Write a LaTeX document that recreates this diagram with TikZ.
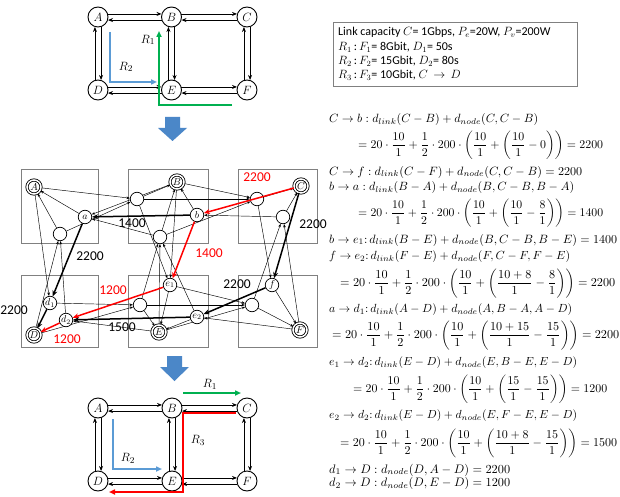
\documentclass[tikz,border=0pt]{standalone}
\usepackage[no-math]{fontspec}
\newfontfamily\calib{Carlito}
\usepackage{amsmath}
\usepackage{graphicx}
\usetikzlibrary{arrows.meta}
\definecolor{rgreen}{RGB}{0,176,80}
\definecolor{rblue}{RGB}{91,155,213}
\definecolor{bigblue}{RGB}{75,135,200}
\definecolor{boxgray}{RGB}{128,128,128}
\newcommand{\eql}[2]{\resizebox{#1pt}{!}{$\displaystyle #2$}}
\pgfdeclarelayer{bg}
\pgfsetlayers{bg,main}
\begin{document}
\begin{tikzpicture}[x=1pt,y=-1pt,
  pn/.style={circle, draw, line width=0.9pt, minimum size=20pt, inner sep=0pt, fill=white, font=\fontsize{13}{13}\selectfont},
  lk/.style={-{Stealth[length=5pt,width=4pt]}, line width=0.8pt},
  route/.style={line width=1.6pt, -{Triangle[length=6pt,width=5pt]}},
  vn/.style={circle, draw, line width=0.7pt, minimum size=13.5pt, inner sep=0pt, fill=white, font=\fontsize{10}{10}\selectfont},
  ph/.style={circle, draw, double, double distance=1.5pt, line width=0.8pt, minimum size=14pt, inner sep=0pt, fill=white, font=\fontsize{10}{10}\selectfont},
  th/.style={-{Stealth[length=3.5pt,width=2.6pt]}, line width=0.45pt},
  bk/.style={-{Stealth[length=6pt,width=5pt]}, line width=1.5pt},
  rd/.style={bk, draw=red},
  vbox/.style={draw=boxgray, line width=0.8pt},
  num/.style={font=\calib\fontsize{13.5}{13.5}\selectfont, inner sep=0pt},
  rnum/.style={num, text=red},
  blk/.style={fill=bigblue, draw=none},
  info/.style={font=\calib\fontsize{12}{12}\selectfont, anchor=west, inner sep=0pt},
  eqn/.style={anchor=west, inner sep=0pt}
]
\useasboundingbox (0,0) rectangle (620,497);
\begin{pgfonlayer}{bg}
\fill[white] (0,0) rectangle (620,497);
\end{pgfonlayer}

% ---------------- top graph ----------------
\foreach \n/\x/\y in {A/98/17, B/171.5/17, C/247/17, D/98/90, E/171.5/90, F/247/90}
  \node[pn] (t\n) at (\x,\y) {$\n$};
\foreach \p/\q in {A/B, B/C, D/E, E/F} {
  \draw[lk] (t\p.17) -- (t\q.163);
  \draw[lk] (t\q.197) -- (t\p.343);
}
\foreach \p/\q in {A/D, B/E, C/F} {
  \draw[lk] (t\q.107) -- (t\p.253);
  \draw[lk] (t\p.287) -- (t\q.73);
}
\draw[route, draw=rgreen] (232,105) -- (159,105) -- (159,31);
\node[font=\fontsize{13}{13}\selectfont] (tR1) at (148,40) {$R_1$};
\draw[route, draw=rblue] (110,32) -- (110,82) -- (157,82);
\node[font=\fontsize{13}{13}\selectfont] (tR2) at (126,67) {$R_2$};

% info box
\node[draw=boxgray, line width=0.8pt, minimum width=244pt, minimum height=64pt, anchor=north west, inner sep=0pt] (infobox) at (333,22) {};
\node[info] (i1) at (338,32.5) {Link capacity $C$= 1Gbps, $P_e$=20W, $P_v$=200W};
\node[info] (i2) at (338,47) {$R_1$\,:\,$F_1$= 8Gbit, $D_1$= 50s};
\node[info] (i3) at (338,61) {$R_2$\,:\,$F_2$= 15Gbit, $D_2$= 80s};
\node[info] (i4) at (338,75.5) {$R_3$\,:\,$F_3$= 10Gbit, $C\,\rightarrow\,D$};

% big blue arrows
\fill[blk] (165,117) -- (180,117) -- (180,128) -- (187,128) -- (172.5,141) -- (158,128) -- (165,128) -- cycle;
\fill[blk] (167,356) -- (182,356) -- (182,367) -- (189,367) -- (174.5,381) -- (160,367) -- (167,367) -- cycle;

% ---------------- middle graph ----------------
\begin{pgfonlayer}{bg}
\draw[vbox] (21,169) rectangle (98,243);
\draw[vbox] (128,169) rectangle (208,243);
\draw[vbox] (238,169) rectangle (317,243);
\draw[vbox] (21,275) rectangle (98,347);
\draw[vbox] (128,275) rectangle (208,347);
\draw[vbox] (238,275) rectangle (317,347);
\end{pgfonlayer}

\node[ph] (mA) at (34,187) {$A$};
\node[ph] (mB) at (177,182) {$B$};
\node[ph] (mC) at (301,186) {$C$};
\node[ph] (mD) at (34,335) {$D$};
\node[ph] (mE) at (159,332) {$E$};
\node[ph] (mF) at (300,330) {$F$};

\node[vn] (va)  at (85,217)  {$a$};
\node[vn] (vaD) at (60,234)  {};
\node[vn] (vbA) at (137,199) {};
\node[vn] (vb)  at (197,215) {$b$};
\node[vn] (vbE) at (160,237) {};
\node[vn] (vcB) at (257,199) {};
\node[vn] (vcF) at (283,217) {};
\node[vn] (vd1) at (50,303)  {$d_1$};
\node[vn] (vd2) at (66,320)  {$d_2$};
\node[vn] (ve1) at (170,285) {$e_1$};
\node[vn] (veD) at (140,305) {};
\node[vn] (ve2) at (197,317) {$e_2$};
\node[vn] (vf)  at (272,285) {$f$};
\node[vn] (vfE) at (252,305) {};

\begin{pgfonlayer}{bg}
\foreach \s/\t in {mA/vbA, mA/vd1, mB/va, mB/vcB, mB/ve1, mD/vaD, mD/veD, mE/vbE, mE/vd2, mE/vfE, mF/vcF, mF/ve2,
  vaD/vbA, vbA/vcB, vbA/ve1, vbE/va, vbE/vcB, vcB/vf, vcF/vb, vd1/veD, vd2/vaD, ve1/vfE, veD/vbE, veD/vfE, ve2/vbE, vfE/vcF,
  va/mA, vaD/mA, vbA/mB, vb/mB, vbE/mB, vcB/mC, vcF/mC, ve1/mE, veD/mE, ve2/mE, vf/mF, vfE/mF}
  \draw[th] (\s) -- (\t);
\end{pgfonlayer}

\draw[rd] (mC) -- (vb);
\draw[bk] (mC) -- (vf);
\draw[bk] (vb) -- (va);
\draw[rd] (vb) -- (ve1);
\draw[bk] (vf) -- (ve2);
\draw[bk] (va) -- (vd1);
\draw[rd] (ve1) -- (vd2);
\draw[bk] (ve2) -- (vd2);
\draw[bk] (vd1) -- (mD);
\draw[rd] (vd2) -- (mD);

\node[rnum] (l1) at (257,177) {2200};
\node[num]  (l2) at (132,223) {1400};
\node[rnum] (l3) at (209,253) {1400};
\node[num]  (l4) at (90,256)  {2200};
\node[num]  (l5) at (313,224) {2200};
\node[rnum] (l6) at (113,290) {1200};
\node[num]  (l7) at (237,284) {2200};
\node[num]  (l8) at (14,310)  {2200};
\node[num]  (l9) at (122,327) {1500};
\node[rnum] (l10) at (67,339) {1200};

% ---------------- bottom graph ----------------
\foreach \n/\x/\y in {A/98/408, B/172/408, C/247/408, D/98/481, E/172/481, F/247/481}
  \node[pn] (u\n) at (\x,\y) {$\n$};
\foreach \p/\q in {A/B, B/C, D/E, E/F} {
  \draw[lk] (u\p.17) -- (u\q.163);
  \draw[lk] (u\q.197) -- (u\p.343);
}
\foreach \p/\q in {A/D, B/E, C/F} {
  \draw[lk] (u\q.107) -- (u\p.253);
  \draw[lk] (u\p.287) -- (u\q.73);
}
\draw[route, draw=rgreen] (183,393) -- (241,393);
\node[font=\fontsize{13}{13}\selectfont] (uR1) at (210,384) {$R_1$};
\draw[route, draw=red] (236,413) -- (183,413) -- (183,492) -- (109,492);
\node[font=\fontsize{13}{13}\selectfont] (uR3) at (198,440) {$R_3$};
\draw[route, draw=rblue] (113,419) -- (113,469) -- (162,469);
\node[font=\fontsize{13}{13}\selectfont] (uR2) at (128,458) {$R_2$};

% ---------------- formulas ----------------
\node[eqn] (f1) at (329,120) {\eql{209}{C\rightarrow b\mathrel{:} d_{link}(C-B)+d_{node}(C,C-B)}};
\node[eqn] (f2) at (358,145.5) {\eql{245}{=20\cdot\frac{10}{1}+\frac{1}{2}\cdot 200\cdot\left(\frac{10}{1}+\left(\frac{10}{1}-0\right)\right)=2200}};
\node[eqn] (f3) at (329,172) {\eql{253}{C\rightarrow f\mathrel{:} d_{link}(C-F)+d_{node}(C,C-B)=2200}};
\node[eqn] (f4) at (329,188) {\eql{245}{b\rightarrow a\mathrel{:} d_{link}(B-A)+d_{node}(B,C-B,B-A)}};
\node[eqn] (f5) at (358,213.5) {\eql{245}{=20\cdot\frac{10}{1}+\frac{1}{2}\cdot 200\cdot\left(\frac{10}{1}+\left(\frac{10}{1}-\frac{8}{1}\right)\right)=1400}};
\node[eqn] (f6) at (329,240) {\eql{288}{b\rightarrow e_1{:}\, d_{link}(B-E)+d_{node}(B,C-B,B-E)=1400}};
\node[eqn] (f7) at (329,257) {\eql{241}{f\rightarrow e_2{:}\, d_{link}(F-E)+d_{node}(F,C-F,F-E)}};
\node[eqn] (f8) at (340,283.5) {\eql{275}{=20\cdot\frac{10}{1}+\frac{1}{2}\cdot 200\cdot\left(\frac{10}{1}+\left(\frac{10+8}{1}-\frac{8}{1}\right)\right)=2200}};
\node[eqn] (f9) at (329,310) {\eql{243}{a\rightarrow d_1{:}\, d_{link}(A-D)+d_{node}(A,B-A,A-D)}};
\node[eqn] (f10) at (332,335.5) {\eql{287}{=20\cdot\frac{10}{1}+\frac{1}{2}\cdot 200\cdot\left(\frac{10}{1}+\left(\frac{10+15}{1}-\frac{15}{1}\right)\right)=2200}};
\node[eqn] (f11) at (329,363) {\eql{248}{e_1\rightarrow d_2{:}\, d_{link}(E-D)+d_{node}(E,B-E,E-D)}};
\node[eqn] (f12) at (353,389.5) {\eql{254}{=20\cdot\frac{10}{1}+\frac{1}{2}\cdot 200\cdot\left(\frac{10}{1}+\left(\frac{15}{1}-\frac{15}{1}\right)\right)=1200}};
\node[eqn] (f13) at (329,416) {\eql{248}{e_2\rightarrow d_2{:}\, d_{link}(E-D)+d_{node}(E,F-E,E-D)}};
\node[eqn] (f14) at (340,443.5) {\eql{277}{=20\cdot\frac{10}{1}+\frac{1}{2}\cdot 200\cdot\left(\frac{10}{1}+\left(\frac{10+8}{1}-\frac{15}{1}\right)\right)=1500}};
\node[eqn] (f15) at (329,470) {\eql{181}{d_1\rightarrow D\mathrel{:} d_{node}(D,A-D)=2200}};
\node[eqn] (f16) at (329,483.5) {\eql{181}{d_2\rightarrow D\mathrel{:} d_{node}(D,E-D)=1200}};
\end{tikzpicture}
\end{document}
